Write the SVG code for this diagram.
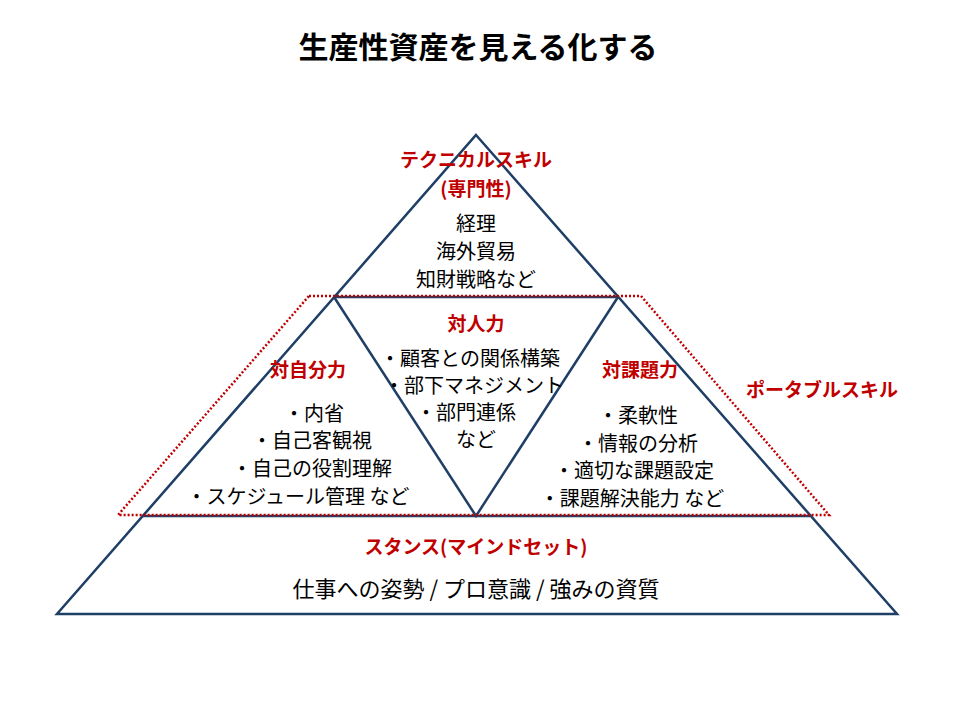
<svg xmlns="http://www.w3.org/2000/svg" width="960" height="720" viewBox="0 0 960 720">
<style>
text{font-family:"Noto Sans CJK JP","Noto Sans",sans-serif;text-anchor:middle;dominant-baseline:central}
.t{font-size:30px;font-weight:bold;fill:#000}
.h{font-size:19px;font-weight:bold;fill:#c00000}
.b{font-size:20px;fill:#000}
.ln{fill:none;stroke:#1f3f66;stroke-width:2.5}
.dot{fill:none;stroke:#c00000;stroke-width:2.5;stroke-dasharray:2 2}
</style>
<rect width="960" height="720" fill="#fff"/>
<text class="t" x="478" y="45">生産性資産を見える化する</text>
<g id="connectors">
<polygon class="ln" points="476,135 897,614 57,614"/>
<line class="ln" x1="334" y1="297" x2="618" y2="297"/>
<line class="ln" x1="142" y1="516" x2="810" y2="516"/>
<polyline class="ln" points="334,297 476,516 618,297"/>
<polygon class="dot" points="309,296 641,296 829,515 118,515"/>
</g>
<g id="technical">
<text class="h" x="476" y="158">テクニカルスキル</text>
<text class="h" x="476" y="187">(専門性)</text>
<text class="b" x="476" y="222">経理</text>
<text class="b" x="476" y="250">海外貿易</text>
<text class="b" x="476" y="278">知財戦略など</text>
</g>
<g id="interpersonal">
<text class="h" x="476" y="322">対人力</text>
<text class="b" x="470" y="357">・顧客との関係構築</text>
<text class="b" x="474" y="384">・部下マネジメント</text>
<text class="b" x="466" y="411">・部門連係</text>
<text class="b" x="476" y="438">など</text>
</g>
<g id="self">
<text class="h" x="308" y="368">対自分力</text>
<text class="b" x="314" y="412">・内省</text>
<text class="b" x="312" y="439">・自己客観視</text>
<text class="b" x="312" y="467">・自己の役割理解</text>
<text class="b" x="298" y="495">・スケジュール管理 など</text>
</g>
<g id="task">
<text class="h" x="640" y="368">対課題力</text>
<text class="b" x="638" y="414">・柔軟性</text>
<text class="b" x="638" y="442">・情報の分析</text>
<text class="b" x="634" y="469">・適切な課題設定</text>
<text class="b" x="632" y="497">・課題解決能力 など</text>
</g>
<g id="portable">
<text class="h" x="822" y="388">ポータブルスキル</text>
</g>
<g id="stance">
<text class="h" x="476" y="545">スタンス(マインドセット)</text>
<text class="b" x="476" y="587" style="font-size:22px">仕事への姿勢 / プロ意識 / 強みの資質</text>
</g>
</svg>
